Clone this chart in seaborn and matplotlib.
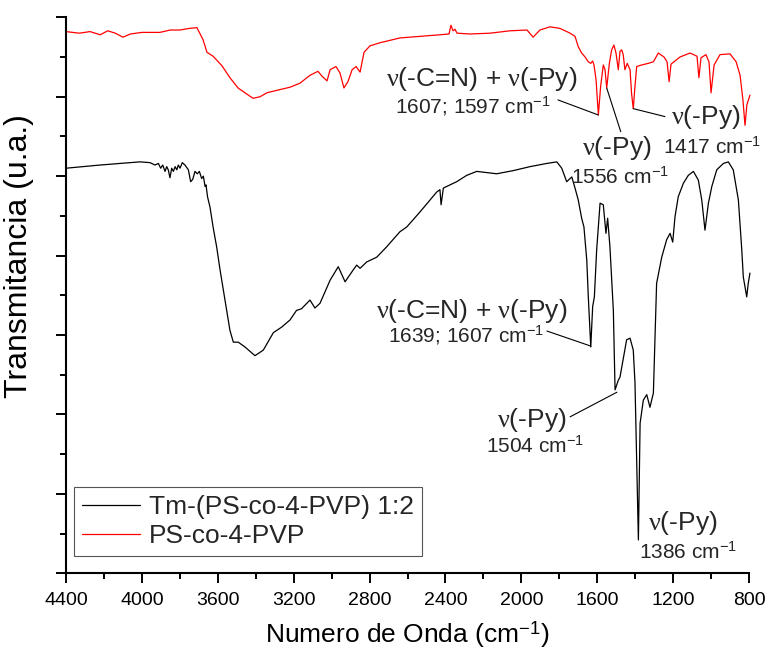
import numpy as np
import pandas as pd
import matplotlib
matplotlib.use("Agg")
import matplotlib.pyplot as plt
import seaborn as sns
from matplotlib.ticker import MultipleLocator

# ---------------- data ----------------
series_names = ["Tm-(PS-co-4-PVP) 1:2", "PS-co-4-PVP"]
series_colors = ["black", "red"]

tm_wavenumber = [4400, 4221, 4010, 3957, 3931, 3913, 3901, 3890, 3878, 3869, 3861, 3852, 3843, 3834,
                 3825, 3816, 3808, 3799, 3787, 3773, 3755, 3743, 3732, 3720, 3708, 3697, 3685, 3676,
                 3667, 3662, 3654, 3641, 3624, 3606, 3588, 3571, 3553, 3536, 3518, 3492, 3457, 3404, 3360,
                 3307, 3263, 3219, 3185, 3159, 3114, 3088, 3061, 3008, 2965, 2929, 2886, 2868, 2850,
                 2815, 2762, 2710, 2640, 2604, 2534, 2446, 2429, 2423, 2411, 2341, 2288, 2235, 2130,
                 2042, 1954, 1866, 1813, 1787, 1761, 1734, 1717, 1700, 1682, 1670, 1655, 1647, 1634,
                 1624, 1615, 1603, 1585, 1568, 1554, 1545, 1533, 1515, 1506, 1489, 1480, 1445, 1427,
                 1410, 1401, 1383, 1374, 1357, 1339, 1322, 1304, 1287, 1260, 1234, 1216, 1202, 1190,
                 1173, 1146, 1120, 1093, 1067, 1049, 1032, 1014, 996, 970, 935, 909, 883, 856, 838,
                 830, 812, 804, 795]
tm_transmittance = [51.0, 51.4, 51.8, 51.7, 51.4, 51.6, 51.0, 51.4, 50.6, 51.2, 50.8, 49.8, 51.0, 50.6,
                    51.2, 50.8, 51.4, 51.0, 51.7, 51.4, 50.8, 49.3, 49.6, 50.6, 50.3, 50.6, 49.7, 50.0,
                    48.7, 48.9, 47.4, 46.1, 43.5, 41.1, 38.2, 35.7, 33.1, 30.6, 29.1, 29.1, 28.5, 27.4, 28.1,
                    30.3, 31.0, 31.9, 33.1, 33.3, 34.4, 33.4, 34.0, 36.9, 38.6, 36.7, 38.2, 38.8, 38.4,
                    39.2, 39.8, 41.1, 43.0, 43.6, 45.5, 48.0, 48.3, 46.4, 48.5, 49.3, 50.1, 50.6, 50.3,
                    50.7, 51.2, 51.6, 51.8, 51.0, 49.3, 49.9, 48.5, 47.0, 44.7, 43.6, 39.4, 34.8, 28.5,
                    33.6, 34.8, 40.7, 46.6, 46.4, 42.8, 44.7, 41.1, 33.1, 23.1, 24.3, 24.7, 29.4, 29.6,
                    28.1, 24.0, 4.2, 18.9, 21.8, 22.5, 20.9, 22.7, 36.5, 39.8, 42.0, 42.8, 41.7, 44.9,
                    47.4, 49.1, 50.1, 50.6, 49.5, 47.0, 43.2, 46.6, 48.7, 50.8, 51.6, 51.8, 50.8, 47.0,
                    40.7, 37.3, 34.8, 36.5, 37.8]

ps_wavenumber = [4400, 4330, 4273, 4220, 4180, 4140, 4100, 4060, 4000, 3905, 3850, 3799, 3750, 3710,
                 3678, 3657, 3625, 3578, 3536, 3493,
                 3457, 3414, 3377, 3341, 3272, 3219, 3167, 3114, 3072, 3051, 3024, 3008, 2977, 2956,
                 2935, 2914, 2892, 2871, 2850, 2829, 2798, 2745, 2692, 2640, 2534, 2429, 2381, 2371,
                 2360, 2350, 2339, 2271, 2165, 2060, 1970, 1938, 1902, 1849, 1796,
                 1743, 1717, 1700, 1682, 1664, 1647, 1634, 1624, 1617, 1606, 1594, 1582, 1568, 1559,
                 1550, 1536, 1524, 1512, 1501, 1489, 1480, 1471, 1463, 1454, 1442, 1427, 1419, 1410,
                 1401, 1392, 1366, 1331, 1304, 1278, 1248, 1232,
                 1221, 1211, 1164, 1111, 1074, 1064, 1053, 1027, 1011, 1000, 984, 953, 900, 868, 847,
                 832, 821, 811, 795]
ps_transmittance = [68.2, 68.0, 68.2, 67.8, 68.3, 68.0, 67.5, 67.9, 68.1, 68.1, 68.4, 68.4, 68.6, 68.7,
                    67.2, 65.6, 65.1, 63.9, 62.4, 61.1,
                    60.5, 59.8, 60.0, 60.5, 60.9, 61.2, 61.7, 62.7, 63.2, 62.6, 62.0, 63.4, 63.8, 63.0,
                    61.1, 61.9, 63.4, 63.8, 63.1, 65.6, 66.4, 66.8, 67.1, 67.4, 67.6, 67.8, 67.9, 69.0,
                    68.3, 68.5, 68.0, 67.9, 68.0, 68.3, 68.4, 67.5, 68.4, 68.8, 68.6,
                    68.0, 67.6, 66.3, 65.5, 65.0, 64.4, 64.2, 64.5, 64.0, 62.1, 57.7, 61.3, 64.0, 63.4,
                    61.1, 64.2, 65.9, 66.5, 65.5, 63.4, 65.7, 65.9, 65.3, 63.4, 64.2, 63.4, 60.4, 58.5,
                    61.3, 63.8, 64.0, 64.2, 64.4, 65.5, 65.0, 64.4,
                    61.9, 64.1, 65.0, 65.5, 65.1, 62.4, 64.9, 65.3, 64.4, 60.5, 64.0, 65.3, 65.4, 64.4,
                    62.7, 59.6, 56.4, 59.0, 60.2]

x_ticks = [4400, 4000, 3600, 3200, 2800, 2400, 2000, 1600, 1200, 800]

# annotations: main label, sub label, their positions, leader line (start -> end)
ann_main = [r"$\nu$(-C=N) + $\nu$(-Py)", r"$\nu$(-Py)", r"$\nu$(-Py)",
            r"$\nu$(-C=N) + $\nu$(-Py)", r"$\nu$(-Py)", r"$\nu$(-Py)"]
ann_main_x = [2207, 1496, 1027, 2260, 1944, 1148]
ann_main_y = [62.2, 53.5, 57.4, 33.0, 19.3, 6.3]
ann_sub = [r"1607; 1597 cm$^{-1}$", r"1556 cm$^{-1}$", r"1417 cm$^{-1}$",
           r"1639; 1607 cm$^{-1}$", r"1504 cm$^{-1}$", r"1386 cm$^{-1}$"]
ann_sub_x = [2255, 1480, 995, 2292, 1928, 1121]
ann_sub_y = [58.8, 49.9, 53.7, 29.9, 16.0, 2.6]
lead_x0 = [1807, 1550, 1410, 1865, 1743, None]
lead_y0 = [59.6, 61.1, 58.5, 30.5, 19.7, None]
lead_x1 = [1594, 1476, 1243, 1633, 1496, None]
lead_y1 = [57.7, 55.6, 57.5, 28.6, 22.8, None]

# ---------------- style ----------------
sns.set_style("ticks")
plt.rcParams["font.family"] = ["Liberation Sans", "DejaVu Sans"]
plt.rcParams["mathtext.fontset"] = "custom"
plt.rcParams["mathtext.rm"] = "Liberation Sans"
plt.rcParams["mathtext.it"] = "Liberation Serif"
plt.rcParams["mathtext.bf"] = "Liberation Sans:bold"

df = pd.concat([
    pd.DataFrame({"wn": tm_wavenumber, "T": tm_transmittance, "series": series_names[0]}),
    pd.DataFrame({"wn": ps_wavenumber, "T": ps_transmittance, "series": series_names[1]}),
], ignore_index=True)

fig = plt.figure(figsize=(7.69, 6.5), dpi=100)
ax = fig.add_axes([66 / 769, 1 - 573.3 / 650, 683 / 769, 556 / 650])

sns.lineplot(data=df, x="wn", y="T", hue="series", hue_order=series_names,
             palette=dict(zip(series_names, series_colors)), estimator=None, sort=False,
             linewidth=0.9, ax=ax, legend=False)
for ln in ax.get_lines():
    ln.set_clip_on(False)

ax.set_xlim(4400, 800)
ax.set_ylim(0, 70)
ax.set_xticks(x_ticks)
ax.set_xticklabels([str(t) for t in x_ticks])
ax.xaxis.set_minor_locator(MultipleLocator(200))
ax.yaxis.set_major_locator(MultipleLocator(10))
ax.yaxis.set_minor_locator(MultipleLocator(5))
ax.tick_params(axis="y", labelleft=False)
ax.tick_params(which="major", length=7.5, width=1.4, direction="out", color="black")
ax.tick_params(which="minor", length=4, width=1.4, direction="out", color="black")
ax.tick_params(axis="x", which="major", labelsize=14, pad=6, labelcolor="black")
for s in ["top", "right"]:
    ax.spines[s].set_visible(False)
for s in ["left", "bottom"]:
    ax.spines[s].set_linewidth(1.5)
    ax.spines[s].set_color("black")

ax.set_xlabel(r"Numero de Onda (cm$^{-1}$)", fontsize=19, color="black")
ax.set_ylabel("Transmitancia (u.a.)", fontsize=23, color="black")
ax.xaxis.set_label_coords(0.5, -0.082)
ax.yaxis.set_label_coords(-0.047, 0.571)

for i in range(len(ann_main)):
    ax.text(ann_main_x[i], ann_main_y[i], ann_main[i], fontsize=19, ha="center", va="center")
    ax.text(ann_sub_x[i], ann_sub_y[i], ann_sub[i], fontsize=15, ha="center", va="center")
    if lead_x0[i] is not None:
        ax.annotate("", xy=(lead_x1[i], lead_y1[i]), xytext=(lead_x0[i], lead_y0[i]),
                    arrowprops=dict(arrowstyle="-", color="black", lw=0.8,
                                    shrinkA=0, shrinkB=0))

handles = ax.get_lines()[:2]
leg = ax.legend(handles, series_names, loc="lower left", bbox_to_anchor=(0.0117, 0.031),
                bbox_transform=ax.transAxes, borderaxespad=0, frameon=True, fancybox=False,
                edgecolor="#555555", framealpha=1, fontsize=19, handlelength=2.2,
                handletextpad=0.35, borderpad=0.3, labelspacing=0.2)
leg.get_frame().set_linewidth(0.8)

fig.savefig("out.png", dpi=100)
